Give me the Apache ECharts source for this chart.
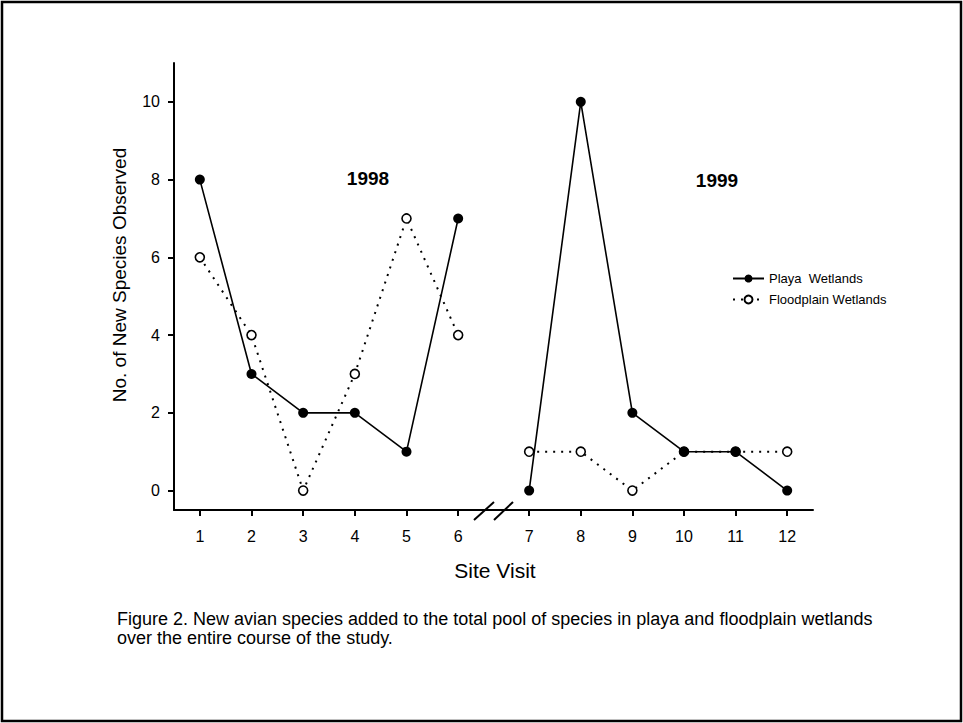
<!DOCTYPE html>
<html>
<head>
<meta charset="utf-8">
<title>New avian species per site visit</title>
<script src="https://cdn.jsdelivr.net/npm/echarts@6/dist/echarts.min.js"></script>
<style>
  html, body { margin: 0; padding: 0; background: #fff; }
  #chart { width: 963px; height: 723px; }
</style>
</head>
<body>
<div id="chart"></div>
<script>
// Site visits, split by field season
const visits1998 = [1, 2, 3, 4, 5, 6];
const visits1999 = [7, 8, 9, 10, 11, 12];

// New species observed at each visit
const playa1998 = [8, 3, 2, 2, 1, 7];
const playa1999 = [0, 10, 2, 1, 1, 0];
const flood1998 = [6, 4, 0, 3, 7, 4];
const flood1999 = [1, 1, 0, 1, 1, 1];

const yTicks = [0, 2, 4, 6, 8, 10];

const seriesNames = ['Playa  Wetlands', 'Floodplain Wetlands'];
const seasonLabels = ['1998', '1999'];
const xTitle = 'Site Visit';
const yTitle = 'No. of New Species Observed';
const caption = 'Figure 2. New avian species added to the total pool of species in playa and floodplain wetlands\nover the entire course of the study.';

const FONT = '"Liberation Sans", Arial, Helvetica, sans-serif';
const pairs = (xs, ys) => xs.map((x, i) => [x, ys[i]]);

const axisLineStyle = { color: '#000', width: 2 };

function xAxisFor(gridIndex, min, max, ticks) {
  return {
    type: 'value', gridIndex, min, max,
    axisLine: { show: true, onZero: false, lineStyle: axisLineStyle },
    axisTick: { show: true, length: 6, customValues: ticks, lineStyle: axisLineStyle },
    axisLabel: { customValues: ticks, color: '#000', fontSize: 16, fontFamily: FONT, margin: 18 },
    splitLine: { show: false }
  };
}

const playaStyle = {
  type: 'line', symbol: 'circle', symbolSize: 10,
  lineStyle: { color: '#000', width: 1.6 },
  itemStyle: { color: '#000' },
  animation: false
};
const floodStyle = {
  type: 'line', symbol: 'circle', symbolSize: 9,
  lineStyle: { color: '#000', width: 2, type: [2, 6] },
  itemStyle: { color: '#fff', borderColor: '#000', borderWidth: 1.6 },
  animation: false
};

const chart = echarts.init(document.getElementById('chart'), null, { renderer: 'svg' });

chart.setOption({
  animation: false,
  backgroundColor: '#fff',
  grid: [
    { left: 174, top: 63, width: 310, height: 447 },
    { left: 484, top: 63, width: 329, height: 447 }
  ],
  xAxis: [
    xAxisFor(0, 0.5, 6.5, visits1998),
    xAxisFor(1, 6.125, 12.5, visits1999)
  ],
  yAxis: [
    {
      type: 'value', gridIndex: 0, min: -0.5, max: 11,
      axisLine: { show: true, onZero: false, lineStyle: axisLineStyle },
      axisTick: { show: true, length: 6, customValues: yTicks, lineStyle: axisLineStyle },
      axisLabel: { customValues: yTicks, color: '#000', fontSize: 16, fontFamily: FONT, margin: 14 },
      splitLine: { show: false }
    },
    { type: 'value', gridIndex: 1, min: -0.5, max: 11, show: false, splitLine: { show: false } }
  ],
  legend: {
    orient: 'vertical',
    left: 732, top: 272, padding: 0,
    itemWidth: 31, itemHeight: 10, itemGap: 8,
    data: seriesNames,
    textStyle: { color: '#000', fontSize: 13, fontFamily: FONT }
  },
  series: [
    Object.assign({ name: seriesNames[0], xAxisIndex: 0, yAxisIndex: 0, data: pairs(visits1998, playa1998) }, playaStyle),
    Object.assign({ name: seriesNames[0], xAxisIndex: 1, yAxisIndex: 1, data: pairs(visits1999, playa1999) }, playaStyle),
    Object.assign({ name: seriesNames[1], xAxisIndex: 0, yAxisIndex: 0, data: pairs(visits1998, flood1998), z: 1 }, floodStyle),
    Object.assign({ name: seriesNames[1], xAxisIndex: 1, yAxisIndex: 1, data: pairs(visits1999, flood1999), z: 1 }, floodStyle)
  ],
  graphic: [
    // page frame
    { type: 'rect', shape: { x: 2, y: 2, width: 959, height: 719 },
      style: { fill: 'none', stroke: '#000', lineWidth: 2.5 }, silent: true },
    // axis break marks between the two seasons
    { type: 'line', shape: { x1: 474, y1: 520, x2: 494, y2: 502 }, style: { stroke: '#000', lineWidth: 2 } },
    { type: 'line', shape: { x1: 494, y1: 520, x2: 513, y2: 502 }, style: { stroke: '#000', lineWidth: 2 } },
    // season labels
    { type: 'text', x: 368, y: 178, style: { text: seasonLabels[0], font: 'bold 19px ' + FONT, fill: '#000', align: 'center', verticalAlign: 'middle' } },
    { type: 'text', x: 717, y: 180, style: { text: seasonLabels[1], font: 'bold 19px ' + FONT, fill: '#000', align: 'center', verticalAlign: 'middle' } },
    // axis titles
    { type: 'text', x: 495, y: 570, style: { text: xTitle, font: '21px ' + FONT, fill: '#000', align: 'center', verticalAlign: 'middle' } },
    { type: 'text', x: 119, y: 275, rotation: Math.PI / 2, style: { text: yTitle, font: '19px ' + FONT, fill: '#000', align: 'center', verticalAlign: 'middle' } },
    // figure caption
    { type: 'text', x: 117, y: 609, style: { text: caption, font: '18px ' + FONT, lineHeight: 19, fill: '#000', align: 'left', verticalAlign: 'top' } }
  ]
});
</script>
</body>
</html>
